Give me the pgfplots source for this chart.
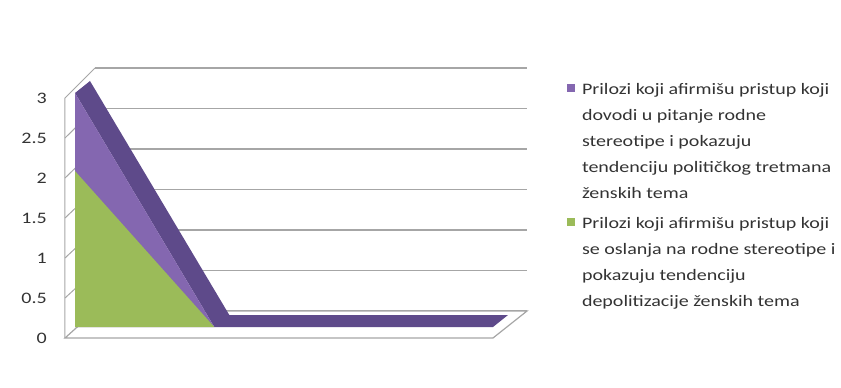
\documentclass[border=0pt]{standalone}
\usepackage{pgfplots}
\pgfplotsset{compat=1.18}
\usepackage{fontspec}
\setmainfont{Carlito}[FakeStretch=1.25]
\definecolor{purpleF}{HTML}{8467B0}
\definecolor{purpleT}{HTML}{5E4A8A}
\definecolor{greenF}{HTML}{9BBB59}
\definecolor{gridC}{HTML}{A6A6A6}
\definecolor{txtC}{HTML}{333333}
\begin{document}
\begin{tikzpicture}
\begin{axis}[
  scale only axis,
  width=428.1bp, height=240bp,
  xmin=0, xmax=3, ymin=0, ymax=3,
  clip=false,
  hide x axis,
  axis y line*=left,
  y axis line style={draw=none},
  major tick style={draw=none},
  ytick={0,0.5,1,1.5,2,2.5,3},
  /pgf/number format/assume math mode=true,
  yticklabel style={font=\fontsize{16bp}{19bp}\selectfont, text=txtC, inner sep=0pt, anchor=east, xshift=-18bp},
  legend style={at={(axis cs:3.518,3.1775)}, anchor=north west, draw=none, fill=none,
    inner sep=0pt, outer sep=0pt, row sep=18bp, column sep=7bp,
    cells={anchor=north west},
    nodes={inner sep=0pt, align=left, text=txtC, font=\fontsize{16bp}{25.8bp}\selectfont}},
]
% bounding region of the whole picture
\path (axis cs:-0.4555,-0.625) rectangle (axis cs:5.438,4.225);
% back wall gridlines
\addplot[gridC, line width=1.2bp, forget plot] coordinates {(0.2102,0.3375) (3.2376,0.3375)};
\addplot[gridC, line width=1.2bp, forget plot] coordinates {(0.2102,0.844) (3.2376,0.844)};
\addplot[gridC, line width=1.2bp, forget plot] coordinates {(0.2102,1.35) (3.2376,1.35)};
\addplot[gridC, line width=1.2bp, forget plot] coordinates {(0.2102,1.856) (3.2376,1.856)};
\addplot[gridC, line width=1.2bp, forget plot] coordinates {(0.2102,2.3625) (3.2376,2.3625)};
\addplot[gridC, line width=1.2bp, forget plot] coordinates {(0.2102,2.869) (3.2376,2.869)};
\addplot[gridC, line width=1.2bp, forget plot] coordinates {(0.2102,3.375) (3.2376,3.375)};
% side wall
\addplot[gridC, line width=1bp, forget plot] coordinates {(0,0) (0,3) (0.2102,3.375)};
\addplot[gridC, line width=1bp, forget plot] coordinates {(0,0.5) (0.2102,0.844)};
\addplot[gridC, line width=1bp, forget plot] coordinates {(0,1) (0.2102,1.35)};
\addplot[gridC, line width=1bp, forget plot] coordinates {(0,1.5) (0.2102,1.856)};
\addplot[gridC, line width=1bp, forget plot] coordinates {(0,2) (0.2102,2.3625)};
\addplot[gridC, line width=1bp, forget plot] coordinates {(0,2.5) (0.2102,2.869)};
% floor
\addplot[fill=white, draw=gridC, line width=1.2bp, forget plot] coordinates {(0,0) (2.9993,0) (3.2376,0.3375) (0.2102,0.3375)} -- cycle;
% purple series (3,0,0,0): top face
\addplot[fill=purpleT, draw=none, forget plot] coordinates {(0.0701,3.0625) (1.0463,0.1375) (2.0231,0.1375) (2.9993,0.1375) (3.1044,0.2875) (2.1282,0.2875) (1.1514,0.2875) (0.1752,3.2125)} -- cycle;
% purple series front face
\addplot[fill=purpleF, draw=none, forget plot] coordinates {(0.0701,0.1375) (0.0701,3.0625) (1.0463,0.1375)} -- cycle;
% green series (2,0,0,0) front face
\addplot[fill=greenF, draw=none, forget plot] coordinates {(0.0701,0.1375) (0.0701,2.0875) (1.0463,0.1375)} -- cycle;
% legend
\addlegendimage{legend image code/.code={\path[draw=none,fill=none] (0bp,0bp) -- (8bp,0bp); \fill[purpleF, draw=none] (0bp,-0.5bp) rectangle (8bp,-8.5bp);}}
\addlegendentry{Prilozi koji afirmišu pristup koji\\dovodi u pitanje rodne\\stereotipe i pokazuju\\tendenciju političkog tretmana\\ženskih tema}
\addlegendimage{legend image code/.code={\path[draw=none,fill=none] (0bp,0bp) -- (8bp,0bp); \fill[greenF, draw=none] (0bp,-0.5bp) rectangle (8bp,-8.5bp);}}
\addlegendentry{Prilozi koji afirmišu pristup koji\\se oslanja na rodne stereotipe i\\pokazuju tendenciju\\depolitizacije ženskih tema}
\end{axis}
\end{tikzpicture}
\end{document}
